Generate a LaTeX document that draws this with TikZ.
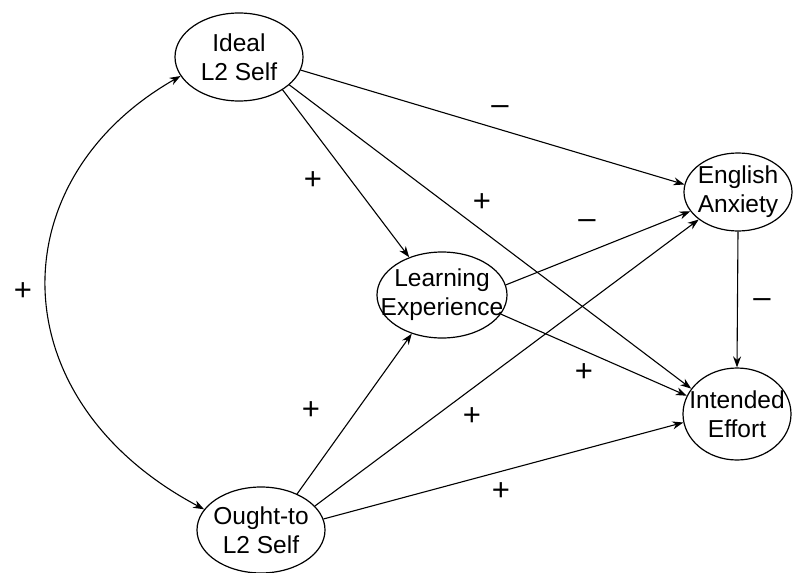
\documentclass[tikz,border=0pt]{standalone}
\usepackage{fontspec}
\setmainfont{Liberation Sans}
\usetikzlibrary{shapes.geometric,arrows.meta}
\begin{document}
\begin{tikzpicture}[x=1pt,y=-1pt,
  latent/.style={draw,ellipse,line width=1.2pt,inner sep=0pt},
  caption/.style={align=center,inner sep=0pt,font=\fontsize{24.5}{29}\selectfont},
  path/.style={line width=1.1pt,-{Stealth[length=11pt,width=8pt]}},
  sign/.style={font=\fontsize{31}{31}\selectfont,inner sep=0pt}]
  \useasboundingbox (0,0) rectangle (793,573);

  % latent constructs (outline and caption set separately so the outline keeps its size)
  \node[latent,minimum width=128,minimum height=88] (ideal) at (239,57) {};
  \node[caption] (ideal-t) at (ideal) {Ideal\\L2 Self};
  \node[latent,minimum width=130,minimum height=86] (learn) at (442,295) {};
  \node[caption] (learn-t) at (learn) {Learning\\Experience};
  \node[latent,minimum width=108,minimum height=78] (anx) at (738,192) {};
  \node[caption] (anx-t) at (anx) {English\\Anxiety};
  \node[latent,minimum width=108,minimum height=92] (effort) at (737,414) {};
  \node[caption] (effort-t) at (effort) {Intended\\Effort};
  \node[latent,minimum width=128,minimum height=86] (ought) at (261,530) {};
  \node[caption] (ought-t) at (ought) {Ought-to\\L2 Self};

  % correlation between the two selves
  \draw[line width=1.1pt,{Stealth[length=11pt,width=8pt]}-{Stealth[length=11pt,width=8pt]}]
    (ideal.198) .. controls (-2,180) and (-2,400) .. (ought.160);

  % structural paths
  \draw[path] (ideal.323) -- (learn.131);
  \draw[path] (ideal.348) -- (anx.172);
  \draw[path] (ideal.331) -- (effort.151);
  \draw[path] (learn.9) -- (anx.202);
  \draw[path] (learn.342) -- (effort.160);
  \draw[path] (ought.45) -- (learn.232);
  \draw[path] (ought.24) -- (anx.215);
  \draw[path] (ought.10) -- (effort.189);
  \draw[path] (anx.south) -- (effort.north);

  % path signs
  \node[sign] (s1) at (23,292) {+};
  \node[sign] (s2) at (313,181) {+};
  \node[sign] (s3) at (482,203) {+};
  \node[sign] (s4) at (500,110) {–};
  \node[sign] (s5) at (587,224) {–};
  \node[sign] (s6) at (762,303) {–};
  \node[sign] (s7) at (584,373) {+};
  \node[sign] (s8) at (311,411) {+};
  \node[sign] (s9) at (472,417) {+};
  \node[sign] (s10) at (501,492) {+};
\end{tikzpicture}
\end{document}
